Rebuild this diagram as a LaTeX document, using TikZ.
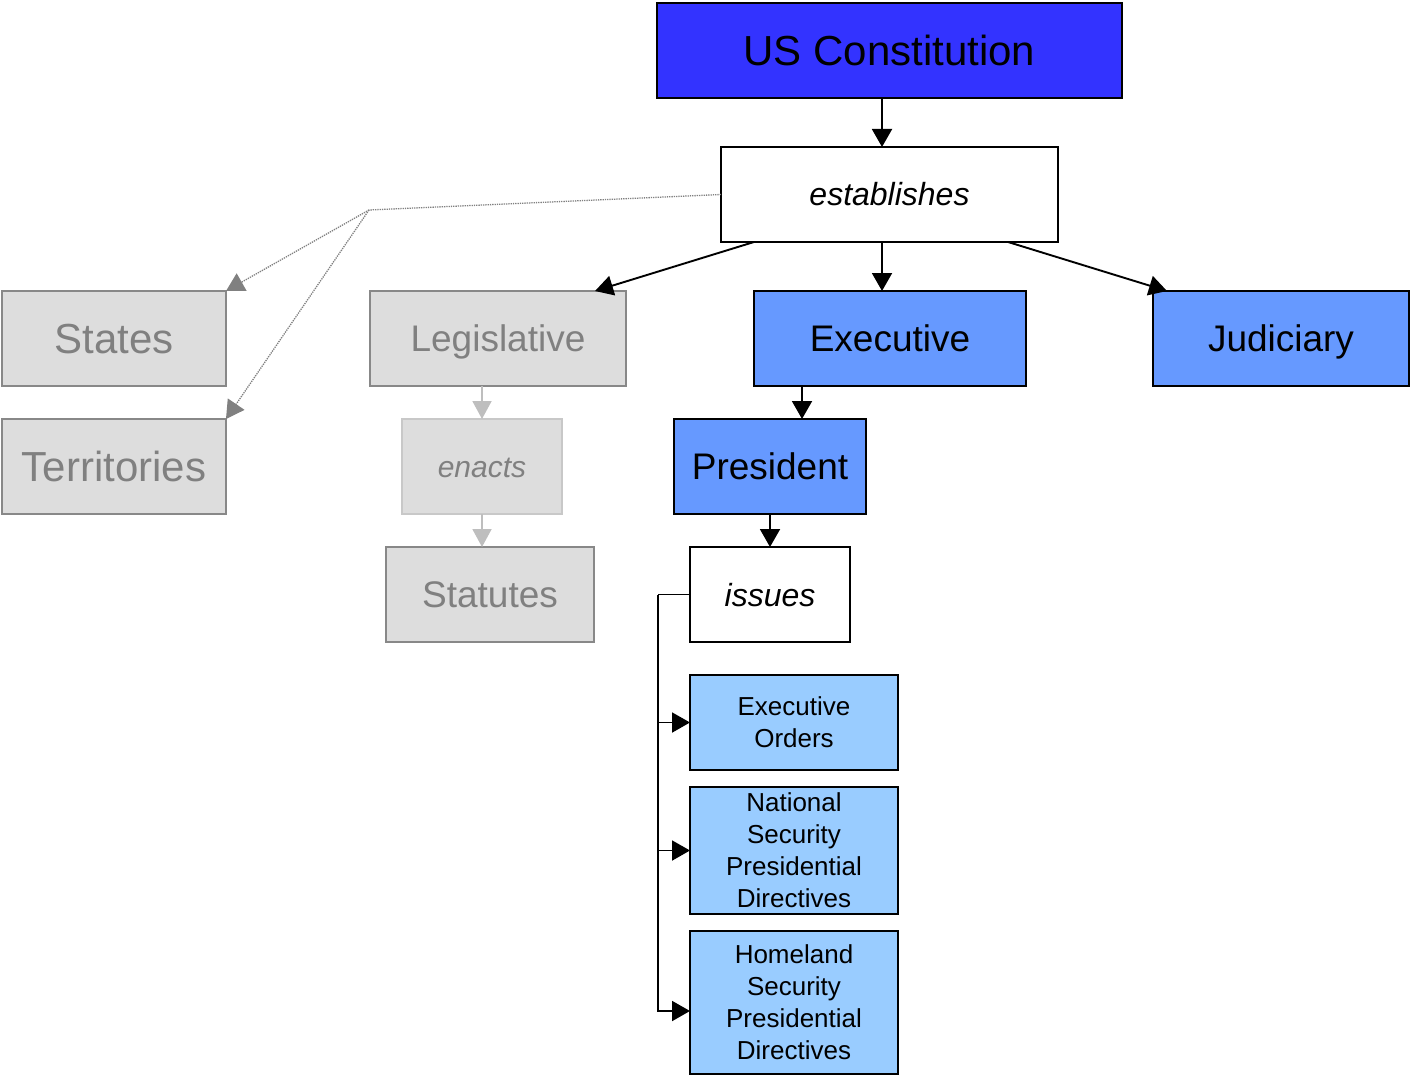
\documentclass[tikz,border=0pt]{standalone}
\usepackage{fontspec}
\setmainfont{Liberation Sans}
\usetikzlibrary{arrows.meta,calc}
\definecolor{conblue}{HTML}{3333FF}
\definecolor{midblue}{HTML}{6699FF}
\definecolor{paleblue}{HTML}{99CCFF}
\definecolor{boxgray}{HTML}{DDDDDD}
\definecolor{edgegray}{HTML}{888888}
\definecolor{textgray}{HTML}{808080}
\definecolor{lightedge}{HTML}{C8C8C8}
\definecolor{arrowgray}{HTML}{BEBEBE}
\tikzset{
  box/.style={draw=black, line width=1.8pt, rectangle, inner sep=0pt, outer sep=0pt, align=center},
  graybox/.style={box, draw=edgegray, fill=boxgray, text=textgray},
  big/.style={text height=30pt, text depth=0pt, font=\fontsize{42}{50}\selectfont},
  mid/.style={text height=26.5pt, text depth=0pt, font=\fontsize{37}{44}\selectfont},
  verb/.style={text height=23pt, text depth=0pt, font=\fontsize{32}{38}\selectfont\itshape},
  small/.style={font=\fontsize{26}{32}\selectfont},
  link/.style={line width=1.9pt, draw=black},
  arr/.style={link, -{Triangle[length=18pt,width=20pt]}},
  grayarr/.style={line width=1.9pt, draw=arrowgray, -{Triangle[length=18pt,width=19pt]}, arrowgray},
  dotline/.style={line width=1.3pt, draw=textgray, densely dotted},
  dotarr/.style={dotline, -{Triangle[length=18pt,width=20pt]}, textgray},
}
\begin{document}
\begin{tikzpicture}[x=1pt, y=-1pt]
\useasboundingbox (0,0) rectangle (1410,1078);

% constitution and its verb
\node[box, fill=conblue, big, minimum width=465pt, minimum height=95pt] (uscon) at (889.5,50.5) {US Constitution};
\node[box, fill=white, verb, minimum width=337pt, minimum height=95pt] (est) at (889.5,194.5) {establishes};

% states and territories
\node[graybox, big, minimum width=224pt, minimum height=95pt] (states) at (114,338.5) {States};
\node[graybox, big, minimum width=224pt, minimum height=95pt] (terr) at (114,466.5) {Territories};

% three branches
\node[graybox, mid, minimum width=256pt, minimum height=95pt] (leg) at (498,338.5) {Legislative};
\node[box, fill=midblue, mid, minimum width=272pt, minimum height=95pt] (exec) at (890,338.5) {Executive};
\node[box, fill=midblue, mid, minimum width=256pt, minimum height=95pt] (jud) at (1281,338.5) {Judiciary};

% legislative chain
\node[graybox, draw=lightedge, verb, minimum width=160pt, minimum height=95pt, font=\fontsize{30}{36}\selectfont\itshape, text height=21.5pt] (enacts) at (482,466.5) {enacts};
\node[graybox, mid, minimum width=208pt, minimum height=95pt] (stat) at (490,594.5) {Statutes};

% executive chain
\node[box, fill=midblue, mid, minimum width=192pt, minimum height=95pt] (pres) at (770,466.5) {President};
\node[box, fill=white, verb, minimum width=160pt, minimum height=95pt] (issues) at (770,594.5) {issues};
\node[box, fill=paleblue, small, minimum width=208pt, minimum height=95pt] (eo) at (794,722.5) {Executive\\Orders};
\node[box, fill=paleblue, small, minimum width=208pt, minimum height=127pt] (nspd) at (794,850.5) {National\\Security\\Presidential\\Directives};
\node[box, fill=paleblue, small, minimum width=208pt, minimum height=143pt] (hspd) at (794,1002.5) {Homeland\\Security\\Presidential\\Directives};

% connectors
\draw[arr] ([xshift=-7.5pt]uscon.south) -- ([xshift=-7.5pt]est.north);
\draw[arr] ([xshift=-7.5pt]est.south) -- ([xshift=-8pt]exec.north);
\draw[arr] ([xshift=33pt]est.south west) -- ([xshift=-31pt]leg.north east);
\draw[arr] ([xshift=-50pt]est.south east) -- ([xshift=14pt]jud.north west);

\coordinate (fork) at (369,210);
\draw[dotline] (est.west) -- (fork);
\draw[dotarr] (fork) -- (states.north east);
\draw[dotarr] (fork) -- (terr.north east);

\draw[grayarr] ([xshift=112pt]leg.south west) -- (enacts.north);
\draw[grayarr] (enacts.south) -- ([xshift=96pt]stat.north west);

\draw[arr] ([xshift=48pt]exec.south west) -- ([xshift=128pt]pres.north west);
\draw[arr] (pres.south) -- (issues.north);

\coordinate (bus) at ([xshift=-32pt]issues.west);
\draw[link] (issues.west) -- (bus);
\draw[arr] (bus) |- ([yshift=-8.5pt]hspd.west);
\draw[arr] (bus |- eo.west) -- (eo.west);
\draw[arr] (bus |- nspd.west) -- (nspd.west);
\end{tikzpicture}
\end{document}
